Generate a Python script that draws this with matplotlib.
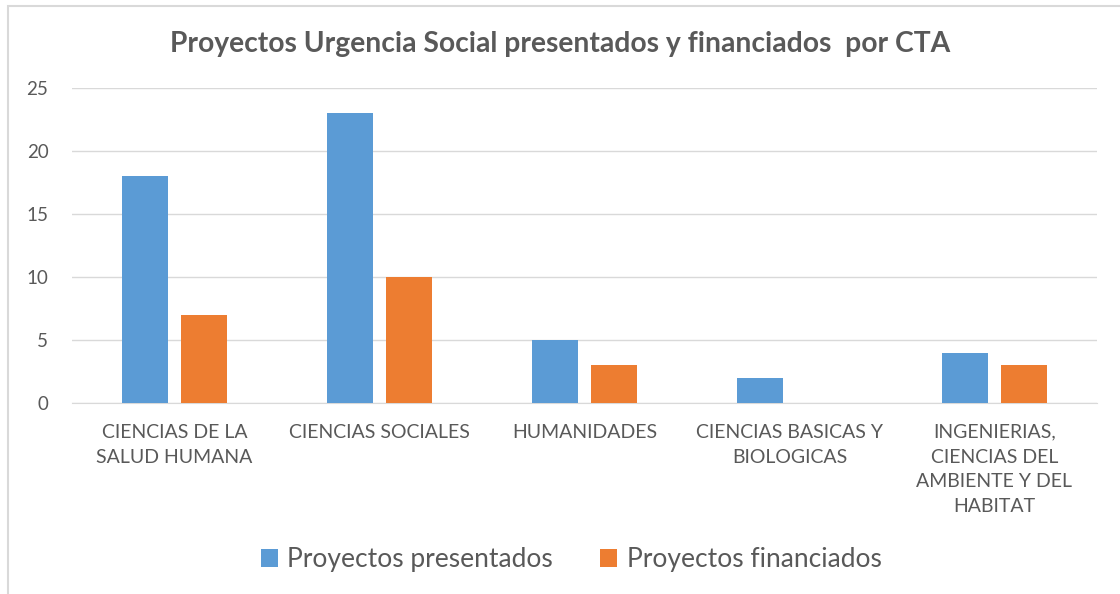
import numpy as np
import matplotlib.pyplot as plt
from matplotlib.patches import Rectangle

categories = ["CIENCIAS DE LA\nSALUD HUMANA", "CIENCIAS SOCIALES", "HUMANIDADES",
              "CIENCIAS BASICAS Y\nBIOLOGICAS",
              "INGENIERIAS,\nCIENCIAS DEL\nAMBIENTE Y DEL\nHABITAT"]
presentados = [18, 23, 5, 2, 4]
financiados = [7, 10, 3, 0, 3]

plt.rcParams['font.family'] = ['Lato', 'DejaVu Sans']
grey = '#595959'

fig = plt.figure(figsize=(11.2, 5.94), dpi=100)
ax = fig.add_axes([72 / 1120, 1 - 403 / 594, 1025 / 1120, 315 / 594])

x = np.arange(len(categories))
w = 0.225
ax.bar(x - 0.146, presentados, w, color='#5B9BD5', label='Proyectos presentados', zorder=3)
ax.bar(x + 0.146, financiados, w, color='#ED7D31', label='Proyectos financiados', zorder=3)

ax.set_xlim(-0.5, len(categories) - 0.5)
ax.set_ylim(0, 25)
ax.set_yticks(range(0, 26, 5))
ax.set_xticks(x)
ax.set_xticklabels(categories, fontsize=14, color=grey, linespacing=1.55, va='top')
ax.tick_params(axis='y', labelsize=13.5, labelcolor=grey, length=0, pad=17)
ax.tick_params(axis='x', length=0, pad=15)
ax.grid(axis='y', color='#d9d9d9', linewidth=1, zorder=0)
for s in ['top', 'right', 'left']:
    ax.spines[s].set_visible(False)
ax.spines['bottom'].set_color('#d9d9d9')

fig.text(0.5, 1 - 44 / 594, "Proyectos Urgencia Social presentados y financiados  por CTA",
         ha='center', va='center', fontsize=20.3, fontweight='bold', color=grey)

fig.legend(loc='center', bbox_to_anchor=(571 / 1120, 1 - 560 / 594), ncol=2, frameon=False,
           fontsize=19, labelcolor=grey, handlelength=0.65, handleheight=0.65,
           handletextpad=0.35, columnspacing=1.8)

# chart border (only top and left visible in the crop)
fig.add_artist(Rectangle((8 / 1120, -0.1), 1.2, 1 - 6 / 594 + 0.1,
                         transform=fig.transFigure, fill=False,
                         edgecolor='#d9d9d9', linewidth=1.5))

fig.savefig('out.png', dpi=100)
